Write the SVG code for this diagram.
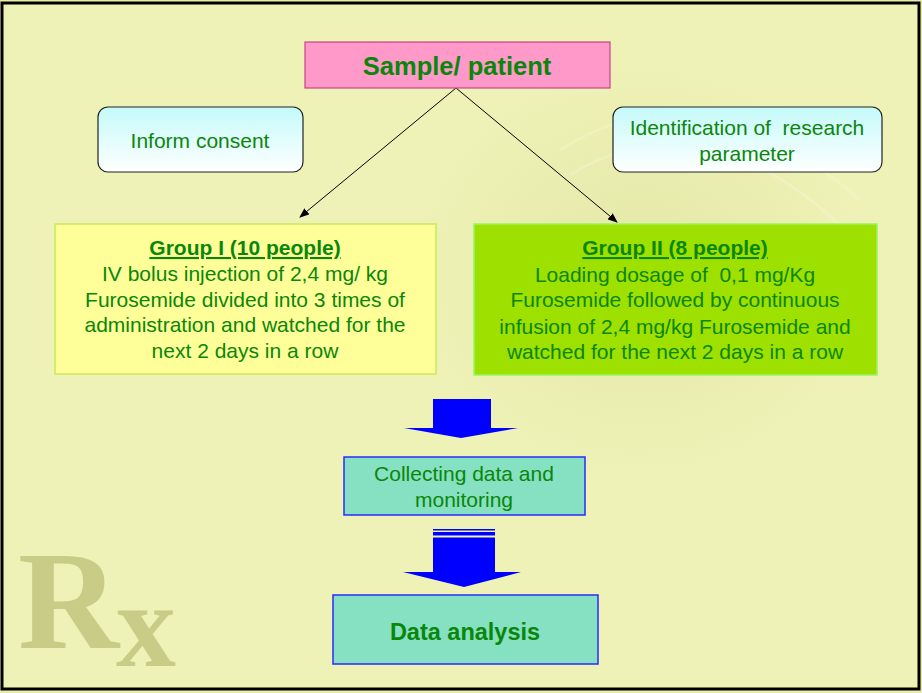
<svg xmlns="http://www.w3.org/2000/svg" width="922" height="693" viewBox="0 0 922 693">
<defs>
<linearGradient id="cyanGrad" x1="0" y1="0" x2="0" y2="1">
<stop offset="0" stop-color="#c4fafa"/>
<stop offset="1" stop-color="#ffffff"/>
</linearGradient>
<radialGradient id="blob" cx="0.5" cy="0.5" r="0.5">
<stop offset="0" stop-color="#d8dc98" stop-opacity="0.5"/>
<stop offset="1" stop-color="#d8dc98" stop-opacity="0"/>
</radialGradient>
<marker id="arrow" markerWidth="10" markerHeight="8" refX="9" refY="4" orient="auto" markerUnits="userSpaceOnUse">
<path d="M0,0 L10,4 L0,8 Z" fill="#000"/>
</marker>
<style>
text { font-family: "Liberation Sans", Arial, sans-serif; fill: #0a870a; text-anchor: middle; white-space: pre; }
.t { font-size: 21px; }
.b { font-weight: bold; }
.u { text-decoration: underline; }
.rnd { fill: url(#cyanGrad); stroke: #222; stroke-width: 1.2; }
.teal { fill: #86e0c2; stroke: #2a2aff; stroke-width: 1.5; }
.blue { fill: #0000ff; }
.conn { stroke: #000; stroke-width: 1; fill: none; }
.rx { font-family: "Liberation Serif", "Times New Roman", serif; fill: #c9cc86; text-anchor: start; }
</style>
</defs>

<!-- background -->
<rect x="0" y="0" width="922" height="693" fill="#e9eca8"/>
<rect x="2" y="3" width="917" height="686" fill="#eef2b6" stroke="#000" stroke-width="3"/>
<ellipse cx="640" cy="270" rx="230" ry="210" fill="url(#blob)"/>
<g fill="none" stroke="#f4f6cc" stroke-opacity="0.45" stroke-width="3">
<path d="M560 150 Q700 60 860 200"/>
<path d="M570 175 Q700 95 840 225"/>
</g>
<g id="rx-watermark">
<text class="rx" x="18" y="648" font-size="140" font-weight="bold">R<tspan font-size="120" dx="-3" dy="18">x</tspan></text>
</g>

<!-- connectors -->
<g id="connectors">
<line class="conn" x1="456" y1="88" x2="300" y2="217" marker-end="url(#arrow)"/>
<line class="conn" x1="456" y1="88" x2="617" y2="222" marker-end="url(#arrow)"/>
<path id="block-arrow-1" class="blue" d="M433,399 H491 V428 H518 L461,438 L404,428 H433 Z"/>
<g id="block-arrow-2">
<rect class="blue" x="433" y="529" width="62" height="1.5"/>
<rect class="blue" x="433" y="532" width="62" height="3.5"/>
<path class="blue" d="M433,537.5 H495 V572 H521 L464,587 L403,572 H433 Z"/>
</g>
</g>

<!-- nodes -->
<g id="sample">
<rect x="305" y="42" width="305" height="46" fill="#ff99c9" stroke="#c8448c" stroke-width="1.2"/>
<text class="b" x="457" y="75" font-size="25.5">Sample/ patient</text>
</g>

<g id="inform-consent">
<rect class="rnd" x="98" y="107" width="205" height="65" rx="10"/>
<text class="t" x="200" y="148">Inform consent</text>
</g>

<g id="identification">
<rect class="rnd" x="613" y="107" width="269" height="65" rx="10"/>
<text class="t" x="747" y="135">Identification of  research</text>
<text class="t" x="747" y="161">parameter</text>
</g>

<g id="group1">
<rect x="55" y="224" width="381" height="150" fill="#ffff99" stroke="#c8ea5a" stroke-width="1.5"/>
<text class="t b u" x="245" y="255">Group I (10 people)</text>
<text class="t" x="245" y="281">IV bolus injection of 2,4 mg/ kg</text>
<text class="t" x="245" y="307">Furosemide divided into 3 times of</text>
<text class="t" x="245" y="332">administration and watched for the</text>
<text class="t" x="245" y="358">next 2 days in a row</text>
</g>

<g id="group2">
<rect x="474" y="224" width="403" height="151" fill="#9ee000" stroke="#99f566" stroke-width="1.5"/>
<text class="t b u" x="675" y="255">Group II (8 people)</text>
<text class="t" x="675" y="282">Loading dosage of  0,1 mg/Kg</text>
<text class="t" x="675" y="307">Furosemide followed by continuous</text>
<text class="t" x="675" y="334">infusion of 2,4 mg/kg Furosemide and</text>
<text class="t" x="675" y="359">watched for the next 2 days in a row</text>
</g>

<g id="collecting">
<rect class="teal" x="344" y="457" width="241" height="58"/>
<text class="t" x="464" y="481">Collecting data and</text>
<text class="t" x="464" y="507">monitoring</text>
</g>

<g id="data-analysis">
<rect class="teal" x="333" y="595" width="265" height="69"/>
<text class="b" x="465" y="640" font-size="23.5">Data analysis</text>
</g>
</svg>
